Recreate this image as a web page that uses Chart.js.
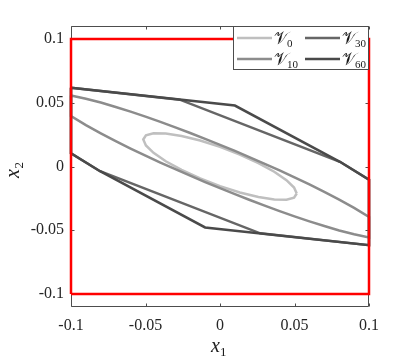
<!DOCTYPE html>
<html><head><meta charset="utf-8">
<script src="https://cdn.jsdelivr.net/npm/chart.js@4"></script>
<style>html,body{margin:0;padding:0;background:#fff;}</style>
</head><body>
<canvas id="c" width="407" height="361" style="width:407px;height:361px;display:block"></canvas>
<script>
// ---- tick labels ----
const tickValues = [-0.1, -0.05, 0, 0.05, 0.1];
const tickLabels = ['-0.1', '-0.05', '0', '0.05', '0.1'];

// ---- series (closed curves) ----
const seriesNames = ['0', '10', '30', '60'];

const boxX = [-0.1, 0.1, 0.1, -0.1, -0.1];
const boxY = [-0.1, -0.1, 0.1, 0.1, -0.1];

const v0X = [0.0515, 0.0497, 0.0446, 0.0364, 0.0258, 0.0133, 0, -0.0133, -0.0258, -0.0364, -0.0446, -0.0497,
             -0.0515, -0.0497, -0.0446, -0.0364, -0.0258, -0.0133, 0, 0.0133, 0.0258, 0.0364, 0.0446, 0.0497, 0.0515];
const v0Y = [-0.0212, -0.0165, -0.0107, -0.0041, 0.0027, 0.0094, 0.0154, 0.0204, 0.0239, 0.0259, 0.0261, 0.0245,
             0.0212, 0.0165, 0.0107, 0.0041, -0.0027, -0.0094, -0.0154, -0.0204, -0.0239, -0.0259, -0.0261, -0.0245, -0.0212];

const v10X = [-0.1, -0.09, -0.08, -0.07, -0.06, -0.05, -0.04, -0.03, -0.02, -0.01, 0, 0.01, 0.02, 0.03, 0.04, 0.05, 0.06, 0.07, 0.08, 0.09, 0.1,
              0.1, 0.09, 0.08, 0.07, 0.06, 0.05, 0.04, 0.03, 0.02, 0.01, 0, -0.01, -0.02, -0.03, -0.04, -0.05, -0.06, -0.07, -0.08, -0.09, -0.1, -0.1];
const v10Y = [0.0557, 0.0532, 0.0502, 0.0467, 0.0430, 0.0391, 0.0350, 0.0307, 0.0263, 0.0217, 0.0170, 0.0122, 0.0072, 0.0021, -0.0031, -0.0085, -0.0141, -0.0199, -0.0260, -0.0324, -0.0395,
              -0.0557, -0.0532, -0.0502, -0.0467, -0.0430, -0.0391, -0.0350, -0.0307, -0.0263, -0.0217, -0.0170, -0.0122, -0.0072, -0.0021, 0.0031, 0.0085, 0.0141, 0.0199, 0.0260, 0.0324, 0.0395, 0.0557];

const v30X = [-0.1, -0.027, 0.0805, 0.1, 0.1, 0.027, -0.0805, -0.1, -0.1];
const v30Y = [0.0617, 0.0524, 0.0037, -0.0104, -0.0617, -0.0524, -0.0037, 0.0104, 0.0617];

const v60X = [-0.1, 0.010, 0.0805, 0.1, 0.1, -0.010, -0.0805, -0.1, -0.1];
const v60Y = [0.0617, 0.0478, 0.0037, -0.0104, -0.0617, -0.0478, -0.0037, 0.0104, 0.0617];

const colors = {box: '#ff0000', v0: '#bfbfbf', v10: '#8c8c8c', v30: '#666666', v60: '#4a4a4a'};
const pts = (xs, ys) => xs.map((x, i) => ({x: x, y: ys[i]}));

const mk = (label, xs, ys, color) => ({
  label: label, data: pts(xs, ys), borderColor: color, backgroundColor: color,
  showLine: true, pointRadius: 0, borderWidth: 2.5, tension: 0, fill: false, clip: false
});

const AXC = '#4d4d4d';
const SERIF = '"Liberation Serif", "DejaVu Serif", serif';

const axesBox = {
  id: 'axesBox',
  beforeDatasetsDraw(chart) {
    const {ctx, chartArea: a, scales} = chart;
    ctx.save();
    ctx.strokeStyle = AXC; ctx.lineWidth = 1;
    const L = Math.round(a.left) + 0.5, R = Math.round(a.right) - 0.5, T = Math.round(a.top) + 0.5, B = Math.round(a.bottom) - 0.5;
    ctx.beginPath(); ctx.rect(L, T, R - L, B - T); ctx.stroke();
    const tl = 3;
    ctx.beginPath();
    tickValues.forEach(v => {
      const px = Math.round(scales.x.getPixelForValue(v)) + 0.5;
      ctx.moveTo(px, B); ctx.lineTo(px, B - tl);
      ctx.moveTo(px, T); ctx.lineTo(px, T + tl);
      const py = Math.round(scales.y.getPixelForValue(v)) + 0.5;
      ctx.moveTo(L, py); ctx.lineTo(L + tl, py);
      ctx.moveTo(R, py); ctx.lineTo(R - tl, py);
    });
    ctx.stroke();
    ctx.restore();
  }
};

const overlay = {
  id: 'overlay',
  afterDraw(chart) {
    const ctx = chart.ctx;
    ctx.save();
    // legend
    const lx = 233.5, ly = 26.5, lw = 135, lh = 43;
    ctx.fillStyle = '#fff'; ctx.fillRect(lx, ly, lw, lh);
    ctx.strokeStyle = AXC; ctx.lineWidth = 1; ctx.strokeRect(lx, ly, lw, lh);
    const entries = [
      {n: seriesNames[0], c: colors.v0, col: 0, row: 0},
      {n: seriesNames[1], c: colors.v10, col: 0, row: 1},
      {n: seriesNames[2], c: colors.v30, col: 1, row: 0},
      {n: seriesNames[3], c: colors.v60, col: 1, row: 1}
    ];
    const colX = [237, 305], rowY = [38, 59];
    entries.forEach(e => {
      const x0 = colX[e.col], y0 = rowY[e.row];
      ctx.strokeStyle = e.c; ctx.lineWidth = 2.5;
      ctx.beginPath(); ctx.moveTo(x0, y0); ctx.lineTo(x0 + 35, y0); ctx.stroke();
      ctx.fillStyle = '#1a1a1a';
      ctx.textAlign = 'left'; ctx.textBaseline = 'alphabetic';
      ctx.font = '17px "DejaVu Serif", "DejaVu Sans", serif';
      const tx = x0 + 37;
      ctx.fillText('\u{1D4B1}', tx, y0 + 6);
      const w = ctx.measureText('\u{1D4B1}').width;
      ctx.font = '11px ' + SERIF;
      ctx.fillText(e.n, tx + w - 1, y0 + 9);
    });
    // axis labels
    ctx.fillStyle = '#1a1a1a';
    ctx.font = 'italic 20px ' + SERIF;
    ctx.textAlign = 'left'; ctx.textBaseline = 'alphabetic';
    ctx.fillText('x', 211, 352);
    ctx.font = '13px ' + SERIF;
    ctx.fillText('1', 220, 356);
    ctx.save();
    ctx.translate(19, 178);
    ctx.rotate(-Math.PI / 2);
    ctx.font = 'italic 20px ' + SERIF;
    ctx.fillText('x', 0, 0);
    const wx = ctx.measureText('x').width;
    ctx.font = '13px ' + SERIF;
    ctx.fillText('2', wx + 0.5, 4);
    ctx.restore();
    ctx.restore();
  }
};

const tickOpts = {
  font: {family: SERIF, size: 16}, color: '#262626',
  callback: (v) => { const i = tickValues.findIndex(t => Math.abs(t - v) < 1e-9); return i >= 0 ? tickLabels[i] : ''; }
};

new Chart(document.getElementById('c'), {
  type: 'scatter',
  data: {
    datasets: [
      mk('box', boxX, boxY, colors.box),
      mk('V60', v60X, v60Y, colors.v60),
      mk('V30', v30X, v30Y, colors.v30),
      mk('V10', v10X, v10Y, colors.v10),
      mk('V0', v0X, v0Y, colors.v0)
    ]
  },
  options: {
    responsive: false, animation: false, devicePixelRatio: 1,
    layout: {padding: {top: 26, right: 38, left: 0, bottom: 0}},
    plugins: {legend: {display: false}, tooltip: {enabled: false}},
    scales: {
      x: {
        type: 'linear', min: -0.1, max: 0.1,
        afterBuildTicks: (s) => { s.ticks = tickValues.map(v => ({value: v})); },
        afterFit: (s) => { s.height = 54; },
        grid: {display: false, drawTicks: false}, border: {display: false},
        ticks: Object.assign({padding: 9, maxRotation: 0}, tickOpts)
      },
      y: {
        type: 'linear', min: -0.1102, max: 0.1102,
        afterBuildTicks: (s) => { s.ticks = tickValues.map(v => ({value: v})); },
        afterFit: (s) => { s.width = 71; },
        grid: {display: false, drawTicks: false}, border: {display: false},
        ticks: Object.assign({padding: 7}, tickOpts)
      }
    }
  },
  plugins: [axesBox, overlay]
});
</script>
</body></html>
